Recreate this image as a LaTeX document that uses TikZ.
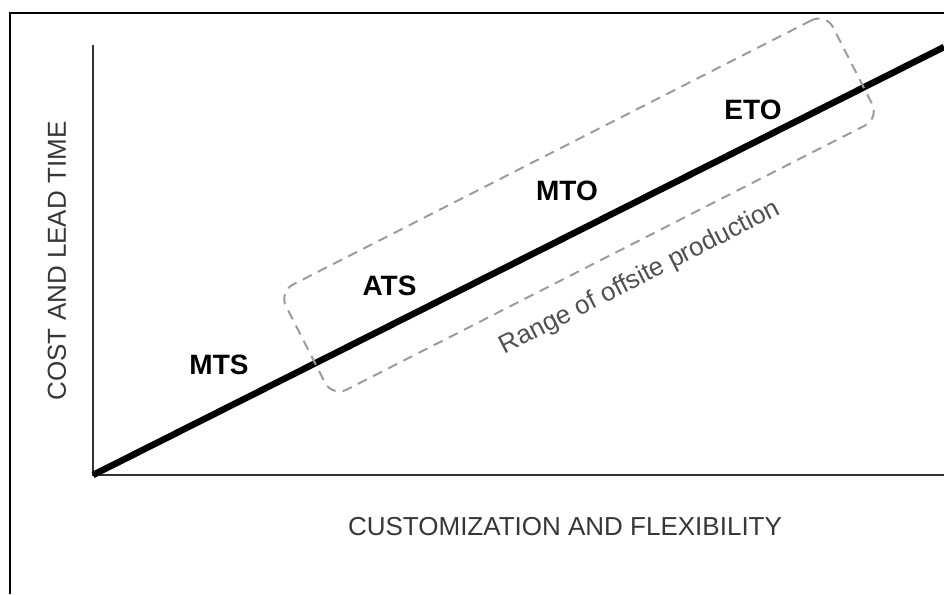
\documentclass[tikz,border=0pt]{standalone}
\usepackage{fontspec}
\setmainfont{Liberation Sans}
\usetikzlibrary{positioning}
\definecolor{axisgray}{HTML}{333333}
\definecolor{boxgray}{HTML}{9c9c9c}
\definecolor{labelgray}{HTML}{363636}
\definecolor{rangegray}{HTML}{505050}

\begin{document}
\begin{tikzpicture}[x=1pt, y=1pt,
  frame/.style={draw=black, line width=2.5pt},
  axis/.style={draw=axisgray, line width=2.5pt},
  trend/.style={draw=black, line width=6.5pt},
  rangebox/.style={draw=boxgray, line width=2pt, dash pattern=on 10pt off 7pt,
    rounded corners=16pt, minimum width=614pt, minimum height=118pt, rotate=27},
  stage/.style={font=\fontsize{28}{30}\selectfont\bfseries, inner sep=0pt},
  axislabel/.style={font=\fontsize{26}{28}\selectfont, text=labelgray, inner sep=0pt},
  rangelabel/.style={font=\fontsize{26}{28}\selectfont, text=rangegray, inner sep=0pt, rotate=27}]
\useasboundingbox (0,0) rectangle (944,594);
% outer frame
\draw[frame] (10,0) |- (944,581);
% axes
\coordinate (ori) at (93,119);
\coordinate (ytop) at (93,549);
\coordinate (xend) at (944,119);
\coordinate (trendend) at (944,547);
\draw[axis] (ytop) -- (ori) -- (xend);
\draw[trend] (ori) -- (trendend);
% range box
\node[rangebox] (range) at (579,389) {};
\node[rangelabel] (rangetext) at (640,316) {Range of offsite production};
% stages
\node[stage] (mts) at (219,229.5) {MTS};
\node[stage] (ats) at (389.5,308.5) {ATS};
\node[stage] (mto) at (567,403) {MTO};
\node[stage] (eto) at (753,484) {ETO};
% axis labels
\node[axislabel] (xlabel) at (565,67) {CUSTOMIZATION AND FLEXIBILITY};
\node[axislabel, rotate=90] (ylabel) at (57,333) {COST AND LEAD TIME};
\end{tikzpicture}
\end{document}
